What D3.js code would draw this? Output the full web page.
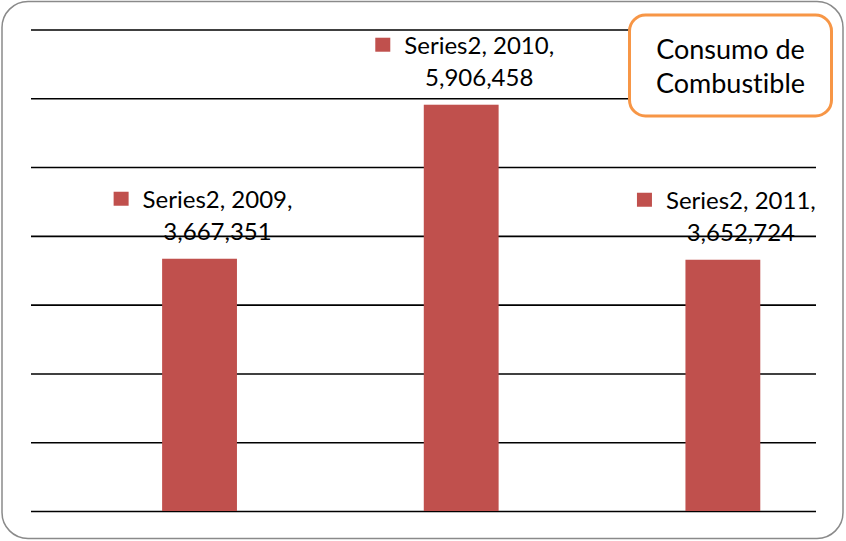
<!DOCTYPE html>
<html>
<head>
<meta charset="utf-8">
<script src="https://cdn.jsdelivr.net/npm/d3@7"></script>
<style>
  html, body { margin: 0; padding: 0; background: #fff; }
  svg { display: block; }
  text { font-family: Lato, "Noto Sans", sans-serif; }
</style>
</head>
<body>
<svg id="chart" width="846" height="541"></svg>
<script>
const categories = ["2009", "2010", "2011"];
const values = [3667351, 5906458, 3652724];
const seriesName = "Series2";
const yTickValues = [0, 1000000, 2000000, 3000000, 4000000, 5000000, 6000000, 7000000];
const titleLines = ["Consumo de", "Combustible"];

const W = 846, H = 541;
const svg = d3.select("#chart");

// outer border
svg.append("rect")
  .attr("x", 2).attr("y", 1.5).attr("width", 841).attr("height", 537)
  .attr("rx", 26).attr("ry", 26)
  .attr("fill", "#fff").attr("stroke", "#8a8a8a").attr("stroke-width", 1.5);

const plotLeft = 31, plotRight = 816, plotTop = 29.5, plotBottom = 511;

const y = d3.scaleLinear().domain([0, 7000000]).range([plotBottom, plotTop]);
const x = d3.scaleBand().domain(categories)
  .range([68.7, 853.7]).paddingInner(0.714).paddingOuter(0.357);

// gridlines
const grid = svg.append("g")
  .attr("transform", `translate(${plotLeft},0)`)
  .call(d3.axisRight(y).tickValues(yTickValues).tickSize(plotRight - plotLeft).tickFormat(""));
grid.select(".domain").remove();
grid.selectAll(".tick line").attr("stroke", "#000").attr("stroke-width", 1.6);

// bars
svg.append("g").selectAll("rect")
  .data(values)
  .join("rect")
  .attr("x", (d, i) => x(categories[i]))
  .attr("y", d => y(d))
  .attr("width", x.bandwidth())
  .attr("height", d => y(0) - y(d))
  .attr("fill", "#C0504D");

// data labels
const fmt = d3.format(",");
const labels = svg.append("g").selectAll("g")
  .data(values)
  .join("g");

labels.each(function(d, i) {
  const g = d3.select(this);
  const cx = x(categories[i]) + x.bandwidth() / 2 + 18;
  const yTop = y(d);
  const t1 = g.append("text")
    .attr("x", cx).attr("y", yTop - 51)
    .attr("text-anchor", "middle")
    .attr("font-size", 24).attr("fill", "#000")
    .text(`${seriesName}, ${categories[i]},`);
  const w = t1.node().getComputedTextLength();
  g.append("rect")
    .attr("x", cx - w / 2 - 29).attr("y", yTop - 67)
    .attr("width", 15).attr("height", 14)
    .attr("fill", "#C0504D");
  g.append("text")
    .attr("x", cx).attr("y", yTop - 19)
    .attr("text-anchor", "middle")
    .attr("font-size", 24).attr("fill", "#000")
    .text(fmt(d));
});

// title box
const tb = svg.append("g");
tb.append("rect")
  .attr("x", 629.5).attr("y", 15).attr("width", 202).attr("height", 101)
  .attr("rx", 16).attr("ry", 16)
  .attr("fill", "#fff").attr("stroke", "#F79646").attr("stroke-width", 3);
tb.selectAll("text")
  .data(titleLines)
  .join("text")
  .attr("x", 730.5)
  .attr("y", (d, i) => 59 + i * 34)
  .attr("text-anchor", "middle")
  .attr("font-size", 27)
  .style("font-variant-ligatures", "none")
  .attr("fill", "#000")
  .text(d => d);
</script>
</body>
</html>
